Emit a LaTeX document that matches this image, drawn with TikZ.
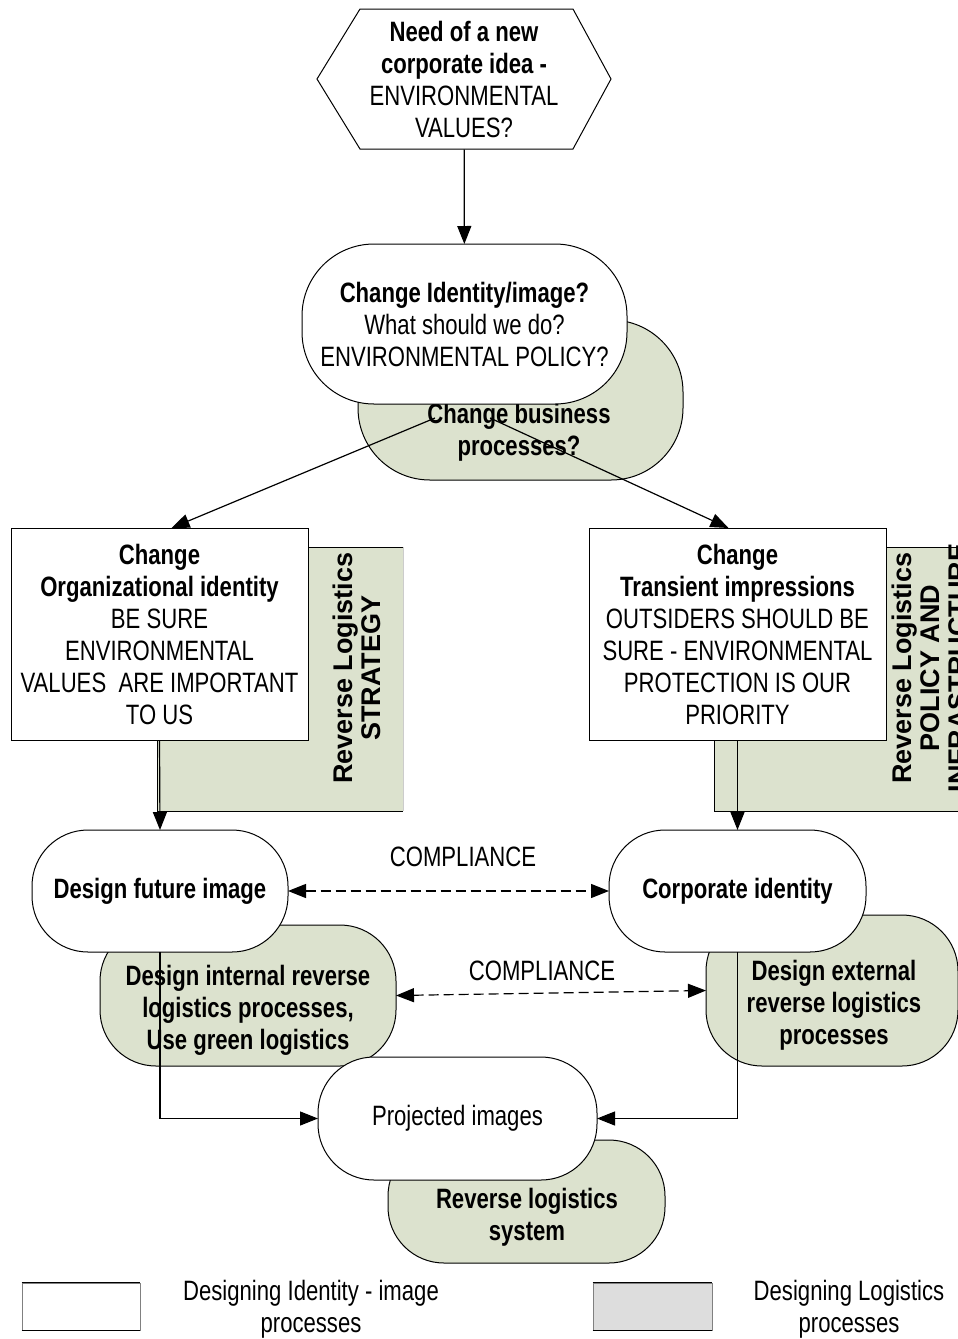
\documentclass[tikz,border=0pt]{standalone}
\usepackage{fontspec}
\setmainfont{Liberation Sans}[FakeStretch=0.79]
\newfontfamily\rotfont{Liberation Sans}
\usetikzlibrary{arrows.meta}
\definecolor{logi}{RGB}{220,226,206}
\definecolor{legray}{RGB}{221,221,221}
\def\px{0.5pt} % one pixel of the original
\tikzset{
  txt/.style={align=center, inner sep=0pt, font=\fontsize{14}{16}\selectfont},
  wh/.style 2 args={minimum width=#1*\px, minimum height=#2*\px},
  idbox/.style={draw, fill=white, line width=0.5pt, inner sep=0pt, outer sep=0pt},
  pill/.style={idbox, rounded corners=28pt},
  bigpill/.style={idbox, rounded corners=36pt},
  logipill/.style={pill, fill=logi},
  arr/.style={-{Triangle[length=9pt,width=7pt]}, line width=0.6pt},
  comply/.style={{Triangle[length=9pt,width=7pt]}-{Triangle[length=9pt,width=7pt]}, line width=0.6pt, dash pattern=on 5pt off 2.5pt},
  rot/.style={rotate=90, align=center, inner sep=0pt, font=\rotfont\bfseries\fontsize{13.5}{14}\selectfont},
}
\begin{document}
\begin{tikzpicture}[x=\px, y=-\px]
\clip (0,0) rectangle (958,1339);

% barre logistiche dietro ai riquadri
\fill[logi] (157,547) rectangle (403,811);
\draw[line width=0.5pt] (403,547) -- (157,547) -- (157,811) -- (403,811);
\draw[gray!40, line width=0.5pt] (403,547) -- (403,811);
\fill[logi] (714,547) rectangle (975,811);
\draw[line width=0.5pt] (975,547) -- (714,547) -- (714,811) -- (975,811);
\node[rot] (strat) at (357,668) {Reverse Logistics\\STRATEGY};
\node[rot] (infra) at (930,668) {Reverse Logistics\\POLICY AND\\INFRASTRUCTURE};

% idea iniziale
\draw[fill=white, line width=0.5pt] (317,79) -- (360,9) -- (573,9) -- (611,79) -- (573,149) -- (360,149) -- cycle;
\node[txt, wh={294}{140}] (need) at (464,79) {\textbf{Need of a new}\\\textbf{corporate idea -}\\ENVIRONMENTAL\\VALUES?};

% identita' / processi
\node[bigpill, fill=logi, wh={325}{160}] (busi) at (520.5,400) {};
\node[txt] (busitxt) at (519,432) {\textbf{Change business}\\\textbf{processes?}};
\node[bigpill, txt, wh={325}{160}] (chid) at (464.5,324) {\textbf{Change Identity/image?}\\What should we do?\\ENVIRONMENTAL POLICY?};

\node[idbox, txt, wh={297}{212}] (orgid) at (159.5,634) {\textbf{Change}\\\textbf{Organizational identity}\\BE SURE\\ENVIRONMENTAL\\VALUES\ \ ARE IMPORTANT\\TO US};
\node[idbox, txt, wh={297}{212}] (trans) at (737.5,634) {\textbf{Change}\\\textbf{Transient impressions}\\OUTSIDERS SHOULD BE\\SURE - ENVIRONMENTAL\\PROTECTION IS OUR\\PRIORITY};

\node[logipill, wh={296}{141}] (intl) at (248,995.5) {};
\node[txt] (intltxt) at (248,1010) {\textbf{Design internal reverse}\\\textbf{logistics processes,}\\\textbf{Use green logistics}};
\node[logipill, wh={252}{151}] (extl) at (832,990.5) {};
\node[txt] (extltxt) at (834,1005) {\textbf{Design external}\\\textbf{reverse logistics}\\\textbf{processes}};
\node[pill, txt, wh={256}{122}] (dfi) at (160,891) {\textbf{Design future image}};
\node[pill, txt, wh={257}{122}] (corp) at (737.5,891) {\textbf{Corporate identity}};

\node[logipill, wh={277}{123}] (rls) at (526.5,1201.5) {};
\node[txt] (rlstxt) at (527,1217) {\textbf{Reverse logistics}\\\textbf{system}};
\node[pill, txt, wh={279}{123}] (proj) at (457.5,1118.5) {Projected images};

% frecce
\coordinate (bl) at (435,418);
\coordinate (br) at (490,418);
\draw[arr] (need) -- (chid);
\draw[arr] (bl) -- ([xshift=6pt]orgid.north);
\draw[arr] (br) -- ([xshift=-4.5pt]trans.north);
\draw[arr] (orgid.south) -- (dfi.north);
\draw[arr] (trans.south) -- (corp.north);
\draw[comply] (dfi.east) -- (corp.west);
\node[txt] (cmp1) at (463,857) {COMPLIANCE};
\draw[comply] (intl.east) -- (extl.west);
\node[txt] (cmp2) at (542,971) {COMPLIANCE};
\draw[arr] (dfi.south) |- (proj.west);
\draw[arr] (corp.south) |- (proj.east);

% legenda
\node[draw=gray, fill=white, line width=0.4pt, wh={118}{47}] (lgid) at (81,1306.5) {};
\draw[line width=0.7pt] (lgid.north west) -- (lgid.north east) (lgid.south west) -- (lgid.south east);
\node[txt] (lgidtxt) at (311,1309) {Designing Identity - image\\processes};
\node[draw=gray, fill=legray, line width=0.4pt, wh={119}{47}] (lglog) at (652.5,1306.5) {};
\draw[line width=0.7pt] (lglog.north west) -- (lglog.north east) (lglog.south west) -- (lglog.south east);
\node[txt] (lglogtxt) at (849,1309) {Designing Logistics\\processes};
\end{tikzpicture}
\end{document}
